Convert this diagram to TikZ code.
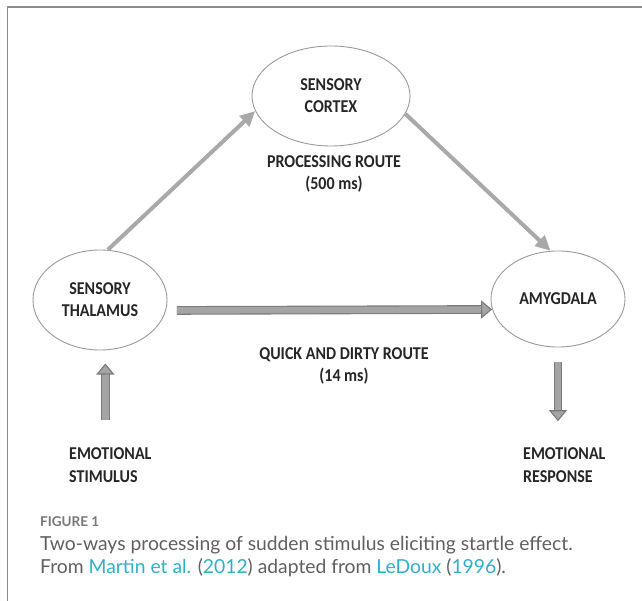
\documentclass[tikz,border=0pt]{standalone}
\usepackage{fontspec}
\setmainfont{Lato}
\newfontfamily\boxfont{Carlito}
\usetikzlibrary{positioning,shapes.geometric,arrows.meta}

\definecolor{framegray}{HTML}{8C8C8C}
\definecolor{ringgray}{HTML}{9A9A9A}
\definecolor{linegray}{HTML}{A9A9A9}
\definecolor{arrowfill}{HTML}{A4A4A4}
\definecolor{arrowedge}{HTML}{7A7A7A}
\definecolor{captiongray}{HTML}{606060}
\definecolor{linkcyan}{RGB}{48,176,200}

\tikzset{
    region/.style={ellipse, draw=ringgray, line width=0.9pt, inner sep=0pt, align=center,
        yscale=1.13, transform shape,
        text=black!85, font=\boxfont\bfseries\fontsize{16}{19.5}\selectfont},
    routetext/.style={align=center, inner sep=0pt, text=black!85, yscale=1.13, transform shape,
        font=\boxfont\bfseries\fontsize{16}{20}\selectfont},
    sidetext/.style={align=left, anchor=west, inner sep=0pt, text=black!85, yscale=1.13, transform shape,
        font=\boxfont\bfseries\fontsize{16}{20.5}\selectfont},
    slimarrow/.style={draw=linegray, line width=4pt, -{Triangle[length=15pt,width=14pt]}},
    fatarrow/.style={draw=arrowedge, line width=1.1pt, double=arrowfill, double distance=6.5pt,
        -{Triangle[length=11pt,width=18pt,fill=arrowfill,line width=1.1pt]}},
    captiontext/.style={anchor=base west, inner sep=0pt, text=captiongray,
        font=\fontsize{19.3}{23}\selectfont}
}

\begin{document}
\begin{tikzpicture}[x=1pt,y=-1pt]
    \useasboundingbox[fill=white] (0,0) rectangle (642,601);
    \draw[framegray, line width=1.6pt] (7.3,601) -- (7.3,7.3) -- (642,7.3);

    \node[region, minimum width=158pt, minimum height=88.5pt] at (331,96)(cortex) {SENSORY\\CORTEX};
    \node[region, minimum width=134pt, minimum height=88.5pt] at (100,300)(thalamus) {SENSORY\\THALAMUS};
    \node[region, minimum width=134pt, minimum height=85pt] at (558,299)(amygdala) {AMYGDALA};

    \node[routetext] at (334,174)(slow) {PROCESSING ROUTE\\(500 ms)};
    \node[routetext] at (344,366)(fast) {QUICK AND DIRTY ROUTE\\(14 ms)};

    \node[sidetext] at (69,465)(stimulus) {EMOTIONAL\\STIMULUS};
    \node[sidetext] at (523,465)(response) {EMOTIONAL\\RESPONSE};

    % routes
    \draw[slimarrow] (thalamus.80) -- (cortex.190);
    \draw[slimarrow] (cortex.-12) -- (amygdala.100);
    \draw[fatarrow, shorten <=11pt] (thalamus.-8) -- (amygdala.188);

    % in and out
    \draw[fatarrow, shorten <=27pt, shorten >=13pt] ([xshift=-5pt]stimulus.north) -- ([xshift=-5pt]stimulus.north |- thalamus.south);
    \draw[fatarrow, shorten <=14pt, shorten >=26pt] (amygdala.south) -- (amygdala.south |- response.north);

    % caption
    \node[captiontext, font=\bfseries\fontsize{13.5}{16}\selectfont, text=captiongray!85] at (40,526)(figno) {FIGURE 1};
    \node[captiontext] at (40,550)(capone) {Two-ways processing of sudden stimulus eliciting startle effect.};
    \node[captiontext] at (40,573)(captwo) {From \textcolor{linkcyan}{Martin et al.} (\textcolor{linkcyan}{2012}) adapted from \textcolor{linkcyan}{LeDoux} (\textcolor{linkcyan}{1996}).};
\end{tikzpicture}
\end{document}
